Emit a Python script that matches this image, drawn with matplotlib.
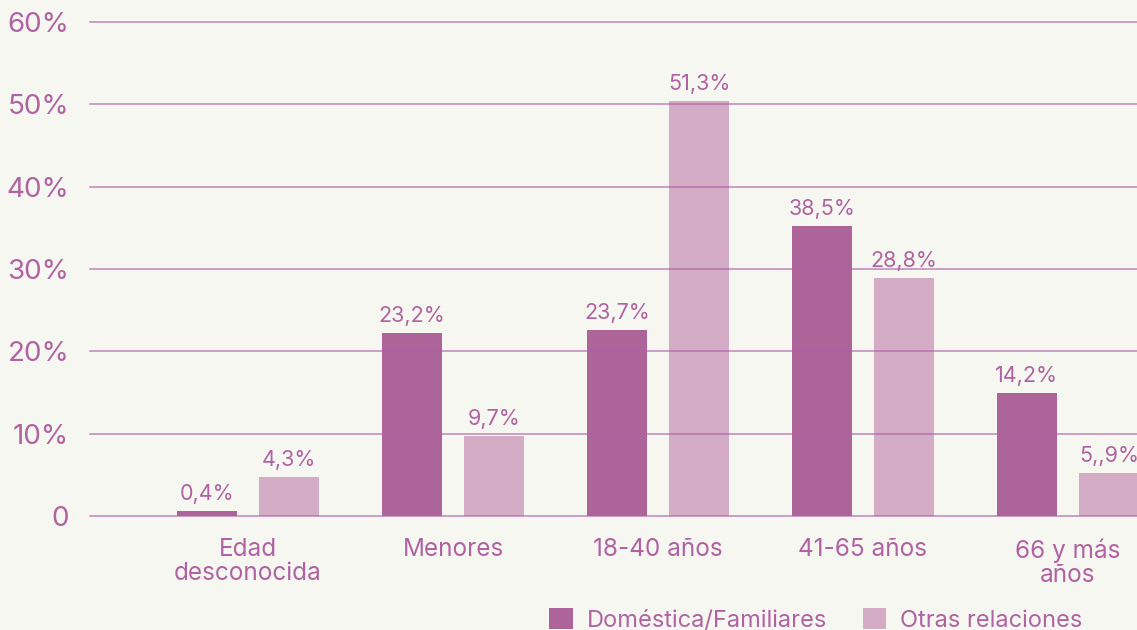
import numpy as np
import matplotlib.pyplot as plt

categorias = ['Edad\ndesconocida', 'Menores', '18-40 años', '41-65 años', '66 y más\naños']
domestica = [0.6, 22.2, 22.6, 35.2, 14.9]
otras = [4.7, 9.7, 50.4, 28.9, 5.2]
etiquetas_dom = ['0,4%', '23,2%', '23,7%', '38,5%', '14,2%']
etiquetas_otras = ['4,3%', '9,7%', '51,3%', '28,8%', '5,,9%']
yticks = [0, 10, 20, 30, 40, 50, 60]
ytick_labels = ['0', '10%', '20%', '30%', '40%', '50%', '60%']

fondo = '#f6f7f0'
morado = '#ad6499'
rosa = '#d4acc6'
texto = '#b062a2'

plt.rcParams['font.family'] = ['Inter', 'DejaVu Sans']

fig = plt.figure(figsize=(11.37, 6.3), dpi=100, facecolor=fondo)
ax = fig.add_axes([90/1137, 114/630, 1047/1137, 494/630])
ax.set_facecolor(fondo)

x = np.arange(len(categorias))
w = 0.293
b1 = ax.bar(x - 0.2, domestica, w, color=morado, zorder=2, label='Doméstica/Familiares')
b2 = ax.bar(x + 0.2, otras, w, color=rosa, zorder=2, label='Otras relaciones')

for rect, lab in zip(b1, etiquetas_dom):
    ax.annotate(lab, (rect.get_x() + rect.get_width()/2, rect.get_height()),
                xytext=(0, 5), textcoords='offset points', ha='center', va='bottom',
                color=texto, fontsize=15.5)
for rect, lab in zip(b2, etiquetas_otras):
    ax.annotate(lab, (rect.get_x() + rect.get_width()/2, rect.get_height()),
                xytext=(0, 5), textcoords='offset points', ha='center', va='bottom',
                color=texto, fontsize=15.5)

# lineas de la rejilla por encima de las barras
for yv in yticks:
    ax.axhline(yv, color='#b05fa5', lw=1.1, alpha=0.75, zorder=3, clip_on=False)

ax.set_xlim(-0.771, 4.337)
ax.set_ylim(0, 60)
ax.set_yticks(yticks)
ax.set_yticklabels(ytick_labels, fontsize=20, color=texto)
ax.set_xticks(x)
ax.set_xticklabels(categorias, fontsize=17.5, color=texto, linespacing=1.05)
ax.tick_params(axis='both', length=0)
ax.tick_params(axis='y', pad=15)
ax.tick_params(axis='x', pad=16)
for s in ax.spines.values():
    s.set_visible(False)

leg = fig.legend(handles=[b1, b2], loc='center', bbox_to_anchor=(816/1137, 1 - 620/630),
                 ncol=2, frameon=False, fontsize=17, handlelength=1.0, handleheight=1.0,
                 handletextpad=0.6, columnspacing=1.5)
for t in leg.get_texts():
    t.set_color(texto)

plt.savefig('out.png', dpi=100, facecolor=fondo)
